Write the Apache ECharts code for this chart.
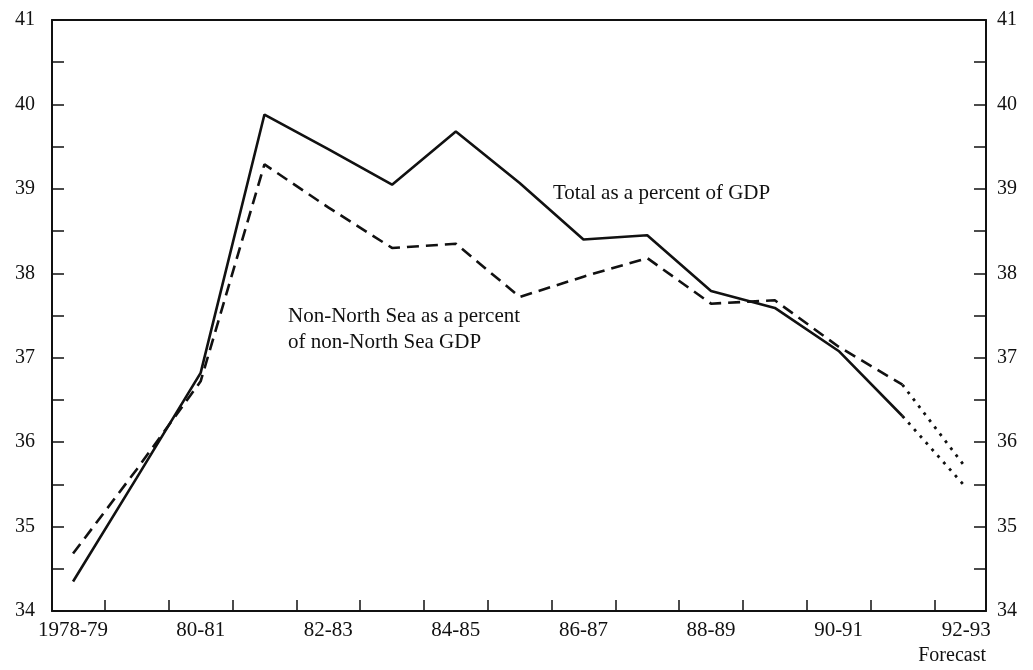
<!DOCTYPE html>
<html>
<head>
<meta charset="utf-8">
<script src="https://cdn.jsdelivr.net/npm/echarts@6/dist/echarts.min.js"></script>
<style>
html,body{margin:0;padding:0;background:#fff;}
#chart{width:1033px;height:670px;}
</style>
</head>
<body>
<div id="chart"></div>
<script>
const categories = ['1978-79','79-80','80-81','81-82','82-83','83-84','84-85','85-86','86-87','87-88','88-89','89-90','90-91','91-92','92-93'];
const labelledCategories = ['1978-79','80-81','82-83','84-85','86-87','88-89','90-91','92-93'];
const totalPct = [34.35, 35.58, 36.82, 39.88, 39.47, 39.05, 39.68, 39.07, 38.40, 38.45, 37.79, 37.59, 37.08, 36.31, 35.46];
const nonNorthSeaPct = [34.68, 35.68, 36.72, 39.29, 38.78, 38.30, 38.35, 37.72, 37.96, 38.18, 37.64, 37.68, 37.13, 36.68, 35.69];
const lastActual = '91-92';
const yTickValues = [34, 35, 36, 37, 38, 39, 40, 41];

const FONT = '"Liberation Serif", "Times New Roman", serif';
const INK = '#111';
const lastIdx = categories.indexOf(lastActual);

function pairs(arr, from, to) {
  const out = [];
  for (let i = from; i <= to; i++) out.push([i, arr[i]]);
  return out;
}
const tickPositions = categories.slice(0, -1).map((c, i) => i + 0.5);
const labelPositions = labelledCategories.map(c => categories.indexOf(c));

const chart = echarts.init(document.getElementById('chart'), null, {renderer: 'canvas'});

const yAxisBase = {
  type: 'value', min: yTickValues[0], max: yTickValues[yTickValues.length - 1], interval: 0.5,
  axisLine: {show: true, onZero: false, lineStyle: {color: INK, width: 2}},
  axisTick: {show: true, inside: true, length: 12, lineStyle: {color: INK, width: 1.5}},
  splitLine: {show: false},
  axisLabel: {
    fontFamily: FONT, fontSize: 20, color: INK,
    formatter: v => (yTickValues.indexOf(v) >= 0 ? String(v) : '')
  }
};

const option = {
  animation: false,
  backgroundColor: '#fff',
  grid: {left: 52, right: 47, top: 20, bottom: 59, containLabel: false},
  xAxis: [{
    type: 'value', min: -0.33, max: 14.31, position: 'bottom',
    axisLine: {show: true, onZero: false, lineStyle: {color: INK, width: 2}},
    axisTick: {show: true, inside: true, length: 11, customValues: tickPositions, lineStyle: {color: INK, width: 1.5}},
    axisLabel: {
      customValues: labelPositions, margin: 9,
      fontFamily: FONT, fontSize: 21, color: INK,
      formatter: v => categories[Math.round(v)]
    },
    splitLine: {show: false}
  }, {
    type: 'value', min: -0.33, max: 14.31, position: 'top',
    axisLine: {show: true, onZero: false, lineStyle: {color: INK, width: 2}},
    axisTick: {show: false}, axisLabel: {show: false}, splitLine: {show: false}
  }],
  yAxis: [
    Object.assign({}, yAxisBase, {position: 'left', axisLabel: Object.assign({}, yAxisBase.axisLabel, {margin: 17})}),
    Object.assign({}, yAxisBase, {position: 'right', axisLabel: Object.assign({}, yAxisBase.axisLabel, {margin: 11})})
  ],
  series: [
    {
      name: 'Total as a percent of GDP', type: 'line', symbol: 'none',
      data: pairs(totalPct, 0, lastIdx),
      lineStyle: {color: INK, width: 2.6, type: 'solid'}
    },
    {
      name: 'Total forecast', type: 'line', symbol: 'none',
      data: pairs(totalPct, lastIdx, totalPct.length - 1),
      lineStyle: {color: INK, width: 2.8, type: [2.8, 6]}
    },
    {
      name: 'Non-North Sea as a percent of non-North Sea GDP', type: 'line', symbol: 'none',
      data: pairs(nonNorthSeaPct, 0, lastIdx),
      lineStyle: {color: INK, width: 2.6, type: [12, 7]}
    },
    {
      name: 'Non-North Sea forecast', type: 'line', symbol: 'none',
      data: pairs(nonNorthSeaPct, lastIdx, nonNorthSeaPct.length - 1),
      lineStyle: {color: INK, width: 2.8, type: [2.8, 6]}
    }
  ],
  graphic: [
    {type: 'text', left: 553, top: 183, style: {text: 'Total as a percent of GDP', font: '21px ' + FONT, fill: INK}},
    {type: 'text', left: 288, top: 303, style: {text: 'Non-North Sea as a percent\nof non-North Sea GDP', font: '21px ' + FONT, fill: INK, lineHeight: 26}},
    {type: 'text', right: 47, top: 646, style: {text: 'Forecast', font: '20px ' + FONT, fill: INK}}
  ]
};
chart.setOption(option);
</script>
</body>
</html>
